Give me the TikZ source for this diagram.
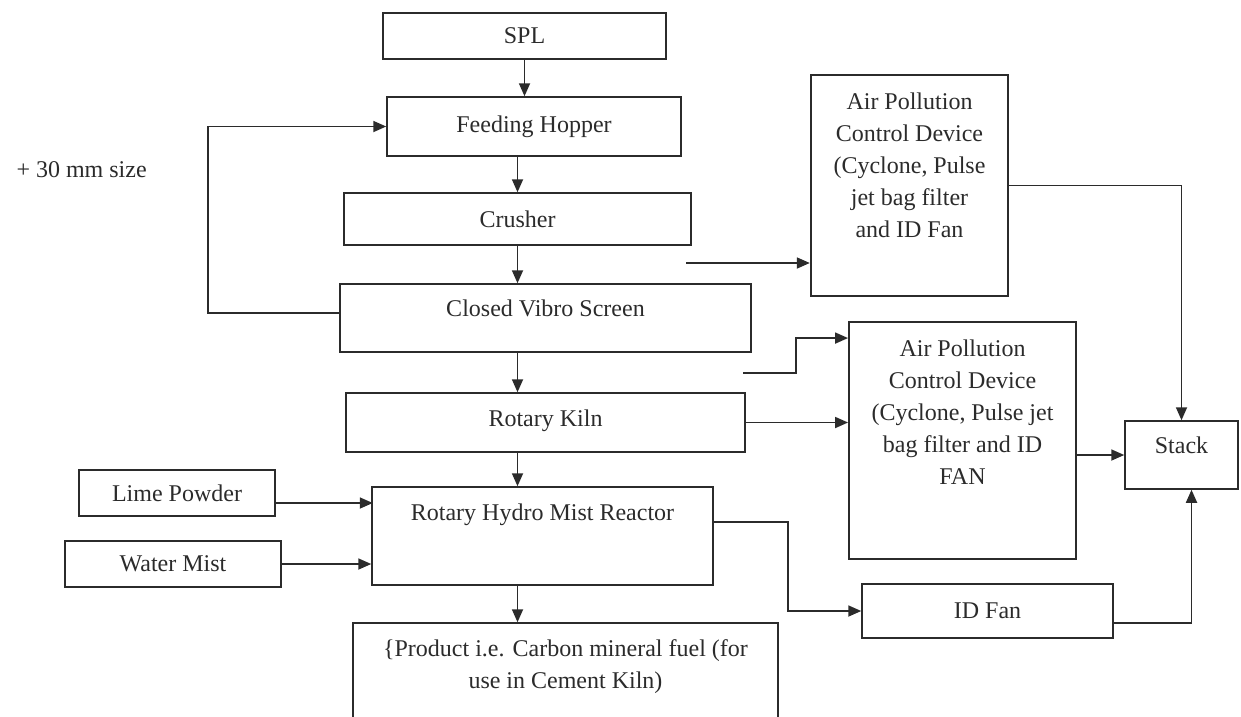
\documentclass[tikz,border=0pt]{standalone}
\usepackage{fontspec}
\setmainfont{Liberation Serif}
\usetikzlibrary{arrows.meta}
\definecolor{ink}{HTML}{2B2B2B}
\tikzset{
  box/.style={draw=ink, line width=1.5pt, inner sep=0pt, align=center},
  heavy/.style={line width=2.4pt},
  flow/.style={-{Triangle[length=13pt,width=11pt]}, draw=ink, line width=1.8pt},
}
\begin{document}
\begin{tikzpicture}[x=1pt, y=-1pt, text=ink, font=\fontsize{24}{32}\selectfont]
      \useasboundingbox (0,0) rectangle (1241,716);
      \draw
        (524.5,36) node[box, minimum width=283pt, minimum height=46pt] (spl){SPL}
        (534,126.5) node[box, minimum width=294pt, minimum height=59pt] (hopper){Feeding Hopper}
        (517.5,219) node[box, minimum width=347pt, minimum height=52pt] (crusher){Crusher}
        (545.5,318) node[box, minimum width=411pt, text height=32pt, text depth=36pt] (screen){Closed Vibro Screen}
        (545.5,422.5) node[box, minimum width=399pt, text height=33pt, text depth=26pt] (kiln){Rotary Kiln}
        (542.5,536) node[box, minimum width=341pt, text height=33pt, text depth=65pt] (reactor){Rotary Hydro Mist Reactor}
        (565.5,681.5) node[box, minimum width=425pt, text height=65pt, text depth=52pt] (product){\{Product i.e. Carbon mineral fuel (for\\use in Cement Kiln)}
        (177,493) node[box, minimum width=196pt, minimum height=46pt] (lime){Lime Powder}
        (173,564) node[box, heavy, minimum width=216pt, minimum height=46pt] (water){Water Mist}
        (909.5,185.5) node[box, heavy, minimum width=197pt, text height=162pt, text depth=59pt] (apcd1){Air Pollution\\Control Device\\(Cyclone, Pulse\\jet bag filter\\and ID Fan}
        (962.5,440.5) node[box, line width=1.9pt, minimum width=227pt, text height=162pt, text depth=75pt] (apcd2){Air Pollution\\Control Device\\(Cyclone, Pulse jet\\bag filter and ID\\FAN}
        (1181.5,455) node[box, minimum width=113pt, text height=32pt, text depth=36pt] (stack){Stack}
        (987.5,611) node[box, minimum width=251pt, minimum height=54pt] (idfan){ID Fan}
        (13,177) node[anchor=base west] (oversize){+ 30 mm size};
      \coordinate (crushout) at (686,263);
      \coordinate (screenout) at (743,373);
      \begin{scope}[flow]
        \draw (spl.south) to (spl.south |- hopper.north);
        \draw (crusher.north |- hopper.south) to (crusher.north);
        \draw (crusher.south) to (crusher.south |- screen.north);
        \draw (crusher.south |- screen.south) to (crusher.south |- kiln.north);
        \draw (crusher.south |- kiln.south) to (crusher.south |- reactor.north);
        \draw (crusher.south |- reactor.south) to (crusher.south |- product.north);
        \draw ([yshift=5pt]screen.west) -- ++(-131,0) |- (hopper.west);
        \draw (crushout) to (crushout -| apcd1.west);
        \draw (screenout) -- ++(53,0) |- ([yshift=-17pt]apcd2.north west);
        \draw (kiln.east) to (kiln.east -| apcd2.west);
        \draw (apcd1.east) -| (stack.north);
        \draw (apcd2.east |- stack.west) to (stack.west);
        \draw ([yshift=14pt]reactor.east) -- ++(74,0) |- (idfan.west);
        \draw ([yshift=-12pt]idfan.east) -| ([xshift=10pt]stack.south);
        \draw ([yshift=-10pt]lime.east) -- ++(97,0);
        \draw (water.east) to (water.east -| reactor.west);
      \end{scope}
    \end{tikzpicture}
\end{document}
